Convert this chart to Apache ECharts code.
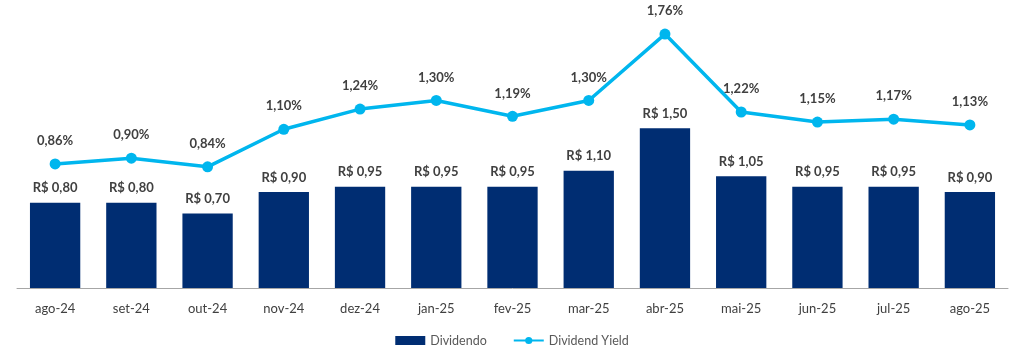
<!DOCTYPE html>
<html><head><meta charset="utf-8">
<script src="https://cdn.jsdelivr.net/npm/echarts@6/dist/echarts.min.js"></script>
<style>html,body{margin:0;padding:0;background:#fff}#c{width:1024px;height:356px}</style>
</head><body><div id="c"></div>
<script>
const categories = ['ago-24','set-24','out-24','nov-24','dez-24','jan-25','fev-25','mar-25','abr-25','mai-25','jun-25','jul-25','ago-25'];
const dividendo = [0.80,0.80,0.70,0.90,0.95,0.95,0.95,1.10,1.50,1.05,0.95,0.95,0.90];
const dividendYield = [0.86,0.90,0.84,1.10,1.24,1.30,1.19,1.30,1.76,1.22,1.15,1.17,1.13];
const fmt = v => v.toFixed(2).replace('.', ',');
const chart = echarts.init(document.getElementById('c'));
const font = 'Lato, "Open Sans", sans-serif';
chart.setOption({
  animation:false,
  textStyle:{fontFamily:font},
  grid:{left:17,right:16,top:11,bottom:68},
  legend:{
    bottom:4,left:'center',itemGap:26,
    textStyle:{color:'#595959',fontSize:12.5,fontFamily:font},
    data:[{name:'Dividendo',icon:'rect'},{name:'Dividend Yield'}],
    itemWidth:30,itemHeight:9
  },
  xAxis:{type:'category',data:categories,
    axisLine:{lineStyle:{color:'#a6a6a6',width:1}},axisTick:{show:false},
    axisLabel:{color:'#404040',fontSize:13,margin:14,fontFamily:font}},
  yAxis:[
    {type:'value',min:0,max:2.6,show:false,splitLine:{show:false}},
    {type:'value',min:0,max:1.92,show:false,splitLine:{show:false}}
  ],
  series:[
    {name:'Dividendo',type:'bar',data:dividendo,barWidth:'66%',yAxisIndex:0,
      itemStyle:{color:'#002D72'},
      label:{show:true,position:'top',distance:8,color:'#404040',fontWeight:'bold',fontSize:13,fontFamily:font,
        formatter:p=>'R$ '+fmt(p.value)}},
    {name:'Dividend Yield',type:'line',data:dividendYield,yAxisIndex:1,
      symbol:'circle',symbolSize:11,
      lineStyle:{color:'#00B6EE',width:3.5},itemStyle:{color:'#00B6EE'},
      label:{show:true,position:'top',distance:11,color:'#404040',fontWeight:'bold',fontSize:13,fontFamily:font,
        formatter:p=>fmt(p.value)+'%'}}
  ]
});
</script></body></html>
